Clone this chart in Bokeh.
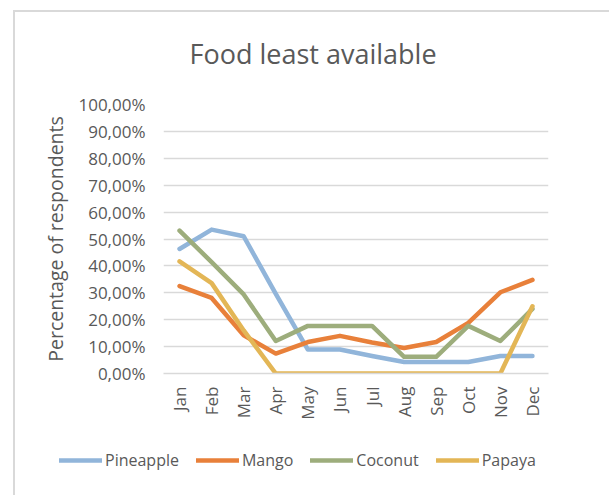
from bokeh.plotting import figure
from bokeh.models import (FactorRange, Range1d, CustomJSTickFormatter, FixedTicker,
                          Legend, LegendItem, Title, InlineStyleSheet)
from bokeh.embed import file_html
from bokeh.resources import INLINE

months = ["Jan", "Feb", "Mar", "Apr", "May", "Jun", "Jul", "Aug", "Sep", "Oct", "Nov", "Dec"]
pineapple = [46.3, 53.5, 51.0, 29.6, 8.9, 8.9, 6.5, 4.3, 4.3, 4.3, 6.5, 6.5]
mango = [32.5, 28.1, 14.2, 7.4, 11.7, 14.0, 11.5, 9.5, 11.7, 18.8, 30.2, 34.8]
coconut = [53.1, 41.4, 29.4, 12.1, 17.7, 17.7, 17.7, 6.2, 6.2, 17.7, 12.1, 24.0]
papaya = [41.7, 33.6, 16.0, 0.0, 0.0, 0.0, 0.0, 0.0, 0.0, 0.0, 0.0, 25.0]
series_names = ["Pineapple", "Mango", "Coconut", "Papaya"]
y_ticks = [0, 10, 20, 30, 40, 50, 60, 70, 80, 90, 100]

colors = ["#91b5da", "#e8803a", "#9dad7c", "#e3b656"]
FONT = "Open Sans"
TXT = "#595959"
BORDER = "#d9d9d9"
series = [pineapple, mango, coconut, papaya]

# ---------------- main chart ----------------
p = figure(width=609, height=430, x_range=FactorRange(*months), y_range=Range1d(0, 100),
           output_backend="svg", toolbar_location=None,
           min_border_left=163, min_border_right=61, min_border_top=103, min_border_bottom=57)
p.outline_line_color = None
p.background_fill_color = "white"
p.border_fill_color = "white"
p.stylesheets = [InlineStyleSheet(css=(
    ":host{position:relative;}"
    ":host::after{content:'';position:absolute;left:13px;top:10px;right:0;bottom:0;"
    f"border-left:2px solid {BORDER};border-top:2px solid {BORDER};pointer-events:none;}}"))]

for vals, c in zip(series, colors):
    p.line(months, vals, line_color=c, line_width=4.5, line_join="round", line_cap="round")

p.yaxis.ticker = FixedTicker(ticks=y_ticks)
p.yaxis.formatter = CustomJSTickFormatter(code="return tick.toFixed(2).replace('.', ',') + '%';")
p.yaxis.axis_line_color = None
p.yaxis.major_tick_line_color = None
p.yaxis.minor_tick_line_color = None
p.yaxis.major_tick_out = 0
p.yaxis.major_tick_in = 0
p.yaxis.major_label_standoff = 18
p.yaxis.major_label_text_font = FONT
p.yaxis.major_label_text_font_size = "17px"
p.yaxis.major_label_text_color = TXT
p.yaxis.axis_label = "Percentage of respondents"
p.yaxis.axis_label_text_font = FONT
p.yaxis.axis_label_text_font_size = "19.5px"
p.yaxis.axis_label_text_font_style = "normal"
p.yaxis.axis_label_text_color = TXT
p.yaxis.axis_label_standoff = 6

p.xaxis.axis_line_color = BORDER
p.xaxis.axis_line_width = 1.5
p.xaxis.major_tick_line_color = None
p.xaxis.minor_tick_line_color = None
p.xaxis.major_tick_out = 0
p.xaxis.major_tick_in = 0
p.xaxis.major_label_orientation = 1.5708
p.xaxis.major_label_standoff = 13
p.xaxis.major_label_text_font = FONT
p.xaxis.major_label_text_font_size = "17px"
p.xaxis.major_label_text_color = TXT

p.xgrid.grid_line_color = None
p.ygrid.grid_line_color = BORDER
p.ygrid.grid_line_width = 1.5

p.add_layout(Title(text="Food least available", align="left", offset=26, standoff=65,
                   text_font=FONT, text_font_size="27px", text_font_style="normal",
                   text_color=TXT), "above")

# ---------------- legend strip (separate root, no frame alignment) ----------------
lg = figure(width=609, height=65, x_range=FactorRange(*months), y_range=Range1d(1000, 1001),
            output_backend="svg", toolbar_location=None,
            x_axis_location=None, y_axis_location=None,
            min_border_left=0, min_border_right=0, min_border_top=0, min_border_bottom=0)
lg.grid.visible = False
lg.outline_line_color = None
lg.background_fill_color = "white"
lg.border_fill_color = "white"
lg.stylesheets = [InlineStyleSheet(css=(
    ":host{position:relative;}"
    ":host::after{content:'';position:absolute;left:13px;top:0;right:0;bottom:0;"
    f"border-left:2px solid {BORDER};pointer-events:none;}}"))]

items = []
for name, vals, c in zip(series_names, series, colors):
    r = lg.line(months, vals, line_color=c, line_width=4.5, line_cap="round")
    items.append(LegendItem(label=name, renderers=[r]))

legend = Legend(items=items, orientation="horizontal", location=(59, 24),
                glyph_width=43, glyph_height=20, label_height=20, label_standoff=3, spacing=17,
                padding=0, margin=0, border_line_color=None, background_fill_alpha=0,
                label_text_font=FONT, label_text_font_size="16px", label_text_color=TXT)
lg.add_layout(legend, "center")

open("out.html", "w").write(file_html((p, lg), INLINE))
